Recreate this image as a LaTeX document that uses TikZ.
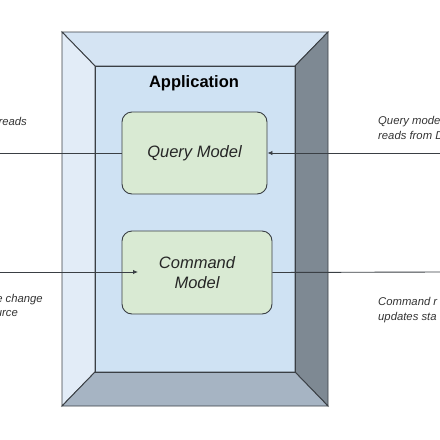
\documentclass[tikz,border=0pt]{standalone}
\usepackage{fontspec}
\setmainfont{Liberation Sans}
\usetikzlibrary{arrows.meta}

\definecolor{faceinner}{HTML}{CFE2F3}
\definecolor{facetop}{HTML}{D5E4F3}
\definecolor{faceleft}{HTML}{E2ECF7}
\definecolor{faceright}{HTML}{7E8993}
\definecolor{facebottom}{HTML}{A6B4C3}
\definecolor{modelgreen}{HTML}{D9EAD3}
\definecolor{edgegray}{HTML}{3A3F44}

\tikzset{
  face/.style={draw=edgegray, line width=0.9pt, line join=miter},
  model/.style={draw=edgegray, line width=0.9pt, fill=modelgreen, rounded corners=10pt,
    align=center, font=\fontsize{16.5}{20}\selectfont\itshape, text=black!85},
  note/.style={inner sep=0pt, align=left, font=\fontsize{11.3}{15}\selectfont\itshape, text=black!80},
  link/.style={draw=edgegray, line width=0.9pt},
  tip/.style={-{Latex[length=5pt,width=4.5pt]}}
}

\begin{document}
\begin{tikzpicture}[x=1pt,y=-1pt]
                \useasboundingbox (0,0) rectangle (440,440);
                \clip (0,0) rectangle (440,440);

                % Draw the bevelled application frame
                \fill[faceinner] (95,66) rectangle (295,372);
                \filldraw[face, fill=facetop] (62,32) -- (328,32) -- (295,66) -- (95,66) -- cycle;
                \filldraw[face, fill=faceleft] (62,32) -- (95,66) -- (95,372) -- (62,406) -- cycle;
                \filldraw[face, fill=faceright] (328,32) -- (328,406) -- (295,372) -- (295,66) -- cycle;
                \filldraw[face, fill=facebottom] (62,406) -- (95,372) -- (295,372) -- (328,406) -- cycle;
                \draw[face] (95,66) rectangle (295,372);
                \node[font=\fontsize{16.5}{20}\selectfont\bfseries] (app) at (194,83) {Application};

                % The two models
                \node[model, minimum width=145pt, minimum height=82pt] (query) at (194.5,153) {Query Model};
                \node[model, minimum width=150pt, minimum height=83pt] (command) at (197,272.5) {Command\\Model};

                % Connectors
                \coordinate (qleft) at (0,153);
                \coordinate (qright) at (440,153);
                \coordinate (cleft) at (0,272);
                \coordinate (cin) at (138,272);
                \coordinate (cright) at (440,272);
                \draw[link] (qleft) -- (query.west);
                \draw[link, tip] (qright) -- (query.east);
                \draw[link, tip] (cleft) -- (cin);
                \draw[link] (command.east) -- (cright);

                % Notes, cut off at the edges
                \node[note, anchor=east] (readsnote) at (27,121) {reads};
                \node[note, anchor=east] (changenote) at (43,300) {e change};
                \node[note, anchor=east] (sourcenote) at (18,314) {urce};
                \node[note, anchor=west] (querynote) at (378,128) {Query model\\reads from D};
                \node[note, anchor=west] (commandnote) at (378,310) {Command r\\updates sta};
            \end{tikzpicture}
\end{document}
